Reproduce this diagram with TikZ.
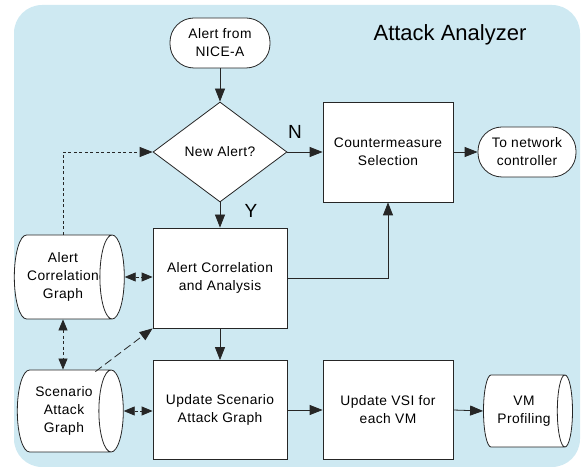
\documentclass[tikz,border=0pt]{standalone}
\usepackage{fontspec}
\setmainfont{Liberation Sans}
\usetikzlibrary{shapes.geometric,arrows.meta,calc}
\definecolor{bgblue}{RGB}{206,233,242}
\begin{document}
\begin{tikzpicture}[x=1pt,y=-1pt,
  font=\fontsize{13.8}{18}\selectfont\addfontfeature{LetterSpace=3},
  box/.style={draw=black!85, fill=white, line width=0.8pt, align=center, inner sep=0pt},
  proc/.style={box, rectangle, minimum width=134pt, minimum height=100pt},
  term/.style={box, rectangle, rounded corners=24pt, minimum width=100pt, minimum height=50pt},
  dec/.style={box, diamond, minimum width=134pt, minimum height=100pt},
  store/.style={box, cylinder, shape aspect=0.5, minimum width=84pt, minimum height=110pt},
  conn/.style={-{Triangle[length=13pt,width=10pt]}, line width=0.8pt, draw=black!85},
  dbl/.style={{Triangle[length=11pt,width=9pt]}-{Triangle[length=11pt,width=9pt]}, line width=0.8pt, draw=black!85, dash pattern=on 3pt off 2.5pt},
  sdash/.style={-{Triangle[length=13pt,width=10pt]}, line width=0.8pt, draw=black!85, dash pattern=on 3pt off 2.5pt},
  ldash/.style={-{Triangle[length=13pt,width=10pt]}, line width=0.8pt, draw=black!85, dash pattern=on 8pt off 4pt},
  lbl/.style={font=\fontsize{19}{20}\selectfont, inner sep=0pt}]
\useasboundingbox (0,0) rectangle (582,470);
\fill[bgblue, rounded corners=28pt] (14,5) rectangle (580,467);
\node[font=\fontsize{22}{24}\selectfont, inner sep=0pt] (title) at (450,35) {Attack Analyzer};
\node[term] (nice) at (220,43) {Alert from\\NICE-A};
\node[dec] (alert) at (220,152) {New Alert?};
\node[proc, minimum width=130pt] (cs) at (388,152) {Countermeasure\\Selection};
\node[term, minimum width=98pt] (net) at (527,152) {To network\\controller};
\node[proc] (aca) at (220,278) {Alert Correlation\\and Analysis};
\node[proc, minimum height=99pt] (usag) at (220,410) {Update Scenario\\Attack Graph};
\node[proc, minimum width=130pt, minimum height=99pt] (uvsi) at (388,410) {Update VSI for\\each VM};
\node[store, minimum width=72pt, minimum height=89pt] (vmp) at (524,411) {VM\\Profiling};
\node[store] (acg) at (63,277) {Alert\\Correlation\\Graph};
\node[store, minimum width=82pt, minimum height=106pt] (sag) at (64,411) {Scenario\\Attack\\Graph};
\coordinate (vx) at (63,0);
\node[lbl] (nlab) at (295,132) {N};
\node[lbl] (ylab) at (251,211) {Y};
\draw[conn] (nice) -- (alert);
\draw[conn] (alert) -- (cs);
\draw[conn] (cs) -- (net);
\draw[conn] (alert) -- (aca);
\draw[conn] (aca.east) -| (cs.south);
\draw[conn] (aca) -- (usag);
\draw[conn] (usag) -- (uvsi);
\draw[conn] (uvsi.east) -- (vmp.west);
\draw[dbl] (acg.east) -- (acg.east -| aca.west);
\draw[dbl] (sag.east) -- (sag.east -| usag.west);
\draw[dbl] (acg.south -| vx) -- (sag.north -| vx);
\draw[sdash] (acg.north -| vx) |- (alert.west);
\draw[ldash] ([xshift=-10pt,yshift=-2pt]sag.north east) -- (aca.south west);
\end{tikzpicture}
\end{document}
